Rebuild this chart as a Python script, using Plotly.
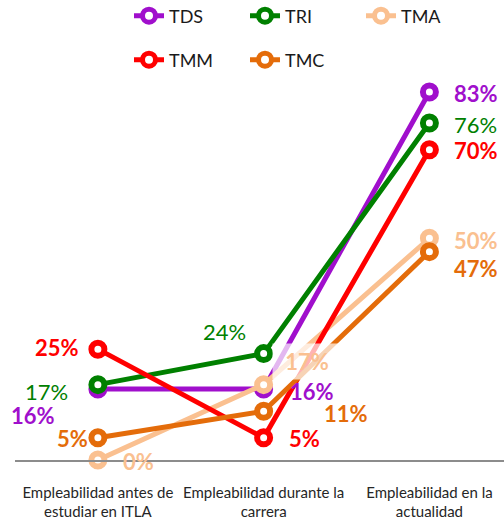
import plotly.graph_objects as go

categories = ["Empleabilidad antes de<br>estudiar en ITLA",
              "Empleabilidad durante la<br>carrera",
              "Empleabilidad en la<br>actualidad"]
series = ["TDS", "TRI", "TMA", "TMM", "TMC"]
tds = [16, 16, 83]
tri = [17, 24, 76]
tma = [0, 17, 50]
tmm = [25, 5, 70]
tmc = [5, 11, 47]
values = {"TDS": tds, "TRI": tri, "TMA": tma, "TMM": tmm, "TMC": tmc}

# styling per series: colour, bold labels, legend, label offsets (xanchor, xshift, yshift)
style = {
    "TDS": dict(color="#A00FCC", bold=True, legend="legend",
                offs=[("right", -41, -26), ("left", 24, -2), ("left", 23, -1)]),
    "TRI": dict(color="#008000", bold=False, legend="legend",
                offs=[("right", -28, -7), ("right", -16, 22), ("left", 23, -1)]),
    "TMA": dict(color="#FAC090", bold=True, legend="legend",
                offs=[("left", 23, -1), ("left", 8, 23), ("left", 23, -2)]),
    "TMM": dict(color="#FF0000", bold=True, legend="legend2",
                offs=[("right", -17, 2), ("left", 23, -1), ("left", 23, -1)]),
    "TMC": dict(color="#E46C0A", bold=True, legend="legend2",
                offs=[("right", -8, -1), ("left", 58, -2), ("left", 23, -17)]),
}

FONT = "Lato"

fig = go.Figure()
annotations = []
for name in series:
    s = style[name]
    fig.add_trace(go.Scatter(
        x=categories, y=values[name], name=name, mode="lines+markers",
        line=dict(color=s["color"], width=5),
        marker=dict(symbol="circle", size=13, color="white",
                    line=dict(color=s["color"], width=6)),
        cliponaxis=False, legend=s["legend"],
    ))
    for i, v in enumerate(values[name]):
        xa, xs, ys = s["offs"][i]
        txt = f"{v}%"
        if s["bold"]:
            txt = f"<b>{txt}</b>"
        ann = dict(x=categories[i], y=v, text=txt, showarrow=False,
                   xanchor=xa, yanchor="middle", xshift=xs, yshift=ys,
                   font=dict(family=FONT, size=22, color=s["color"]))
        if name == "TMA" and i == 1:
            ann.update(bgcolor="rgba(255,255,255,0.7)", width=60, borderpad=4)
        annotations.append(ann)

leg = dict(orientation="h", xref="container", yref="container",
           xanchor="left", yanchor="middle",
           entrywidth=71, entrywidthmode="pixels",
           font=dict(family=FONT, size=18, color="#1a1a1a"),
           bgcolor="rgba(0,0,0,0)")

fig.update_layout(
    width=504, height=522,
    margin=dict(l=15, r=0, t=61, b=62, autoexpand=False),
    plot_bgcolor="white", paper_bgcolor="white",
    font=dict(family=FONT, color="#262626"),
    annotations=annotations,
    legend=dict(leg, x=129 / 504, y=1 - 16 / 522),
    legend2=dict(leg, x=129 / 504, y=1 - 60 / 522),
)
fig.update_xaxes(range=[-0.5, 2.45], showgrid=False, zeroline=False,
                 showline=True, linecolor="#8c8c8c", linewidth=1.5,
                 ticks="", ticklabelstandoff=18,
                 tickfont=dict(family=FONT, size=15, color="#262626"))
fig.update_yaxes(range=[0, 90], visible=False, showgrid=False)

fig.write_html("out.html", config={"displayModeBar": False},
               post_script="document.body.style.margin='0';document.body.style.overflow='hidden';")
